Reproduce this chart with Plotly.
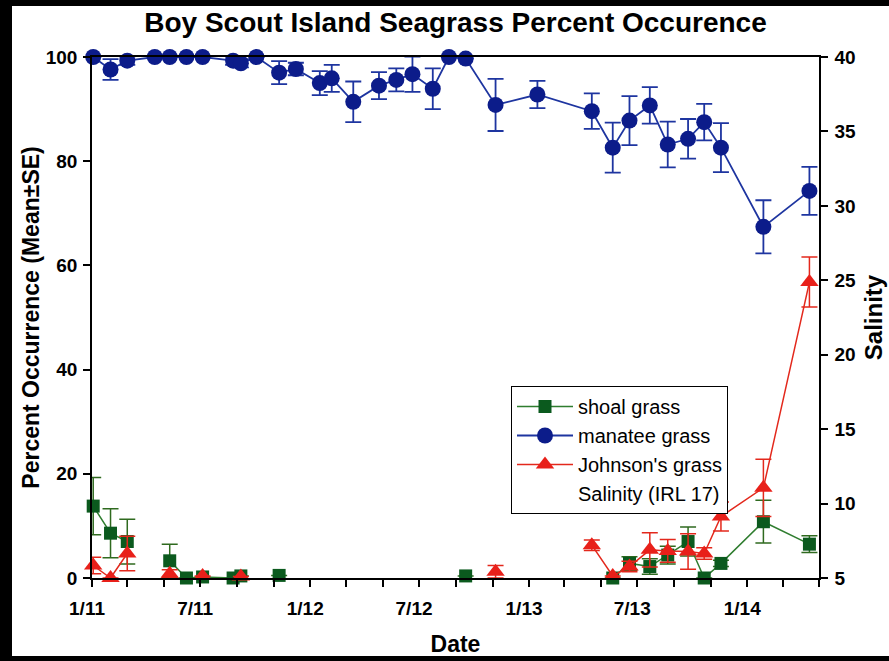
import plotly.graph_objects as go

# ---- data ----
dates = ["2011-01-03", "2011-02-01", "2011-03-01", "2011-04-16", "2011-05-11", "2011-06-08",
         "2011-07-05", "2011-08-25", "2011-09-07", "2011-10-03", "2011-11-10", "2011-12-08",
         "2012-01-17", "2012-02-06", "2012-03-13", "2012-04-25", "2012-05-24", "2012-06-20",
         "2012-07-24", "2012-08-20", "2012-09-17", "2012-11-06", "2013-01-15", "2013-04-16",
         "2013-05-21", "2013-06-18", "2013-07-22", "2013-08-21", "2013-09-24", "2013-10-21",
         "2013-11-18", "2014-01-28", "2014-04-15"]

manatee = [100, 97.6, 99.3, 100, 100, 100, 100, 99.3, 98.8, 100, 97.0, 97.7,
           95.0, 95.9, 91.4, 94.5, 95.6, 96.7, 93.9, 100, 99.7, 90.8, 92.8, 89.6,
           82.6, 87.8, 90.7, 83.2, 84.3, 87.5, 82.6, 67.4, 74.3]
manatee_se = [None, 2.0, 0.8, None, None, None, None, 0.8, 0.8, None, 2.2, 1.2,
              2.3, 2.6, 3.9, 2.6, 2.2, 3.4, 3.9, None, None, 5.0, 2.6, 3.4,
              4.8, 4.7, 3.5, 4.4, 3.8, 3.5, 4.7, 5.1, 4.6]

shoal = [13.8, 8.6, 7.0, None, 3.3, 0.0, 0.2, 0.0, 0.4, None, 0.5, None,
         None, None, None, None, None, None, None, None, 0.4, None, None, None,
         0.0, 2.8, 2.2, 4.4, 7.0, 0.0, 2.8, 10.8, 6.5]
shoal_se = [5.5, 4.7, 4.3, None, 3.2, None, None, None, None, None, None, None,
            None, None, None, None, None, None, None, None, None, None, None, None,
            None, 1.3, 1.5, 1.7, 2.8, None, 0.6, 4.1, 1.6]

johnson = [2.4, 0.0, 4.7, None, 0.8, None, 0.4, None, 0.3, None, None, None,
           None, None, None, None, None, None, None, None, None, 1.2, None, 6.3,
           0.4, 2.2, 5.4, 5.2, 5.1, 4.7, 11.8, 17.3, 56.8]
johnson_se = [1.6, None, 3.3, None, 0.8, None, None, None, None, None, None, None,
              None, None, None, None, None, None, None, None, None, 1.2, None, 1.0,
              None, 1.0, 3.3, 2.2, 3.4, 1.1, 2.8, 5.5, 4.8]

FONT = "Arial, Liberation Sans, sans-serif"

fig = go.Figure()

fig.add_trace(go.Scatter(
    x=dates, y=shoal, name="shoal grass", mode="lines+markers",
    line=dict(color="#2f7d2f", width=1.5),
    marker=dict(symbol="square", size=13, color="#0b5a1e", line=dict(width=0)),
    error_y=dict(type="data", array=shoal_se, visible=True, color="#2f6a1f", thickness=1.5, width=8),
    cliponaxis=False,
))
fig.add_trace(go.Scatter(
    x=dates, y=manatee, name="manatee grass", mode="lines+markers",
    line=dict(color="#1e35a0", width=1.8),
    marker=dict(symbol="circle", size=16, color="#0c1c8a", line=dict(width=0)),
    error_y=dict(type="data", array=manatee_se, visible=True, color="#1e35a0", thickness=1.8, width=8),
    cliponaxis=False,
))
fig.add_trace(go.Scatter(
    x=dates, y=johnson, name="Johnson's grass", mode="lines+markers",
    line=dict(color="#e3281c", width=1.5),
    marker=dict(symbol="triangle-up", size=16, color="#e8201a", line=dict(width=0)),
    error_y=dict(type="data", array=johnson_se, visible=True, color="#e3281c", thickness=1.5, width=8),
    cliponaxis=False,
))
fig.add_trace(go.Scatter(
    x=[None], y=[None], name="Salinity (IRL 17)", mode="lines",
    line=dict(color="rgba(0,0,0,0)", width=1.5), yaxis="y2", showlegend=True,
))

L, R, T, B = 92, 70, 57, 83
W, H = 889, 661
pw, ph = W - L - R, H - T - B

def px_x(x):
    return (x - L) / pw

def px_y(y):
    return (H - B - y) / ph

fig.add_shape(type="rect", xref="paper", yref="paper",
              x0=px_x(12), x1=px_x(889), y0=px_y(656), y1=px_y(6),
              fillcolor="white", line=dict(width=0), layer="below")

tickfont = dict(family=FONT, size=19, color="black", weight="bold")
titlefont = dict(family=FONT, size=23, color="black", weight="bold")

fig.update_layout(
    width=W, height=H,
    margin=dict(l=L, r=R, t=T, b=B, autoexpand=False),
    paper_bgcolor="black", plot_bgcolor="white",
    title=dict(text="Boy Scout Island Seagrass Percent Occurence",
               font=dict(family=FONT, size=28, color="black", weight="bold"),
               x=0.5, xref="paper", xanchor="center",
               y=1 - 22 / H, yref="container", yanchor="middle"),
    showlegend=True,
    legend=dict(x=px_x(511), y=px_y(386), xanchor="left", yanchor="top",
                bgcolor="white", bordercolor="black", borderwidth=1,
                font=dict(family=FONT, size=20, color="black"),
                itemwidth=56, tracegroupgap=0),
    xaxis=dict(
        type="date", range=["2011-01-01", "2014-05-01"], automargin=False,
        dtick="M6", tick0="2011-01-01", tickformat="%-m/%y",
        ticks="outside", ticklen=7, tickwidth=1.5, tickcolor="black",
        minor=dict(dtick="M2", tick0="2011-01-01", ticks="outside", ticklen=7,
                   tickwidth=1.5, tickcolor="black", showgrid=False),
        showline=True, linecolor="black", linewidth=1.5, mirror=True,
        showgrid=False, zeroline=False,
        tickfont=tickfont, ticklabelstandoff=5, ticklabelshift=-5,
        title=dict(text="Date", font=titlefont, standoff=18),
    ),
    yaxis=dict(
        range=[0, 100], dtick=20, tick0=0, automargin=False,
        ticks="outside", ticklen=7, tickwidth=1.5, tickcolor="black",
        showline=True, linecolor="black", linewidth=1.5,
        showgrid=False, zeroline=False,
        tickfont=tickfont, ticklabelstandoff=2,
        title=dict(text="Percent Occurrence (Mean±SE)", font=titlefont, standoff=0),
    ),
    yaxis2=dict(
        range=[5, 40], dtick=5, tick0=5, overlaying="y", side="right", automargin=False,
        ticks="outside", ticklen=7, tickwidth=1.5, tickcolor="black",
        showline=True, linecolor="black", linewidth=1.5,
        showgrid=False, zeroline=False,
        tickfont=tickfont, ticklabelstandoff=3,
        title=dict(text="Salinity", font=dict(family=FONT, size=24, color="black", weight="bold"), standoff=10),
    ),
)

fig.write_html(
    "out.html",
    config={"displayModeBar": False},
    post_script="document.body.style.margin='0';document.body.style.padding='0';"
                "document.body.style.background='black';document.body.style.overflow='hidden';",
)
